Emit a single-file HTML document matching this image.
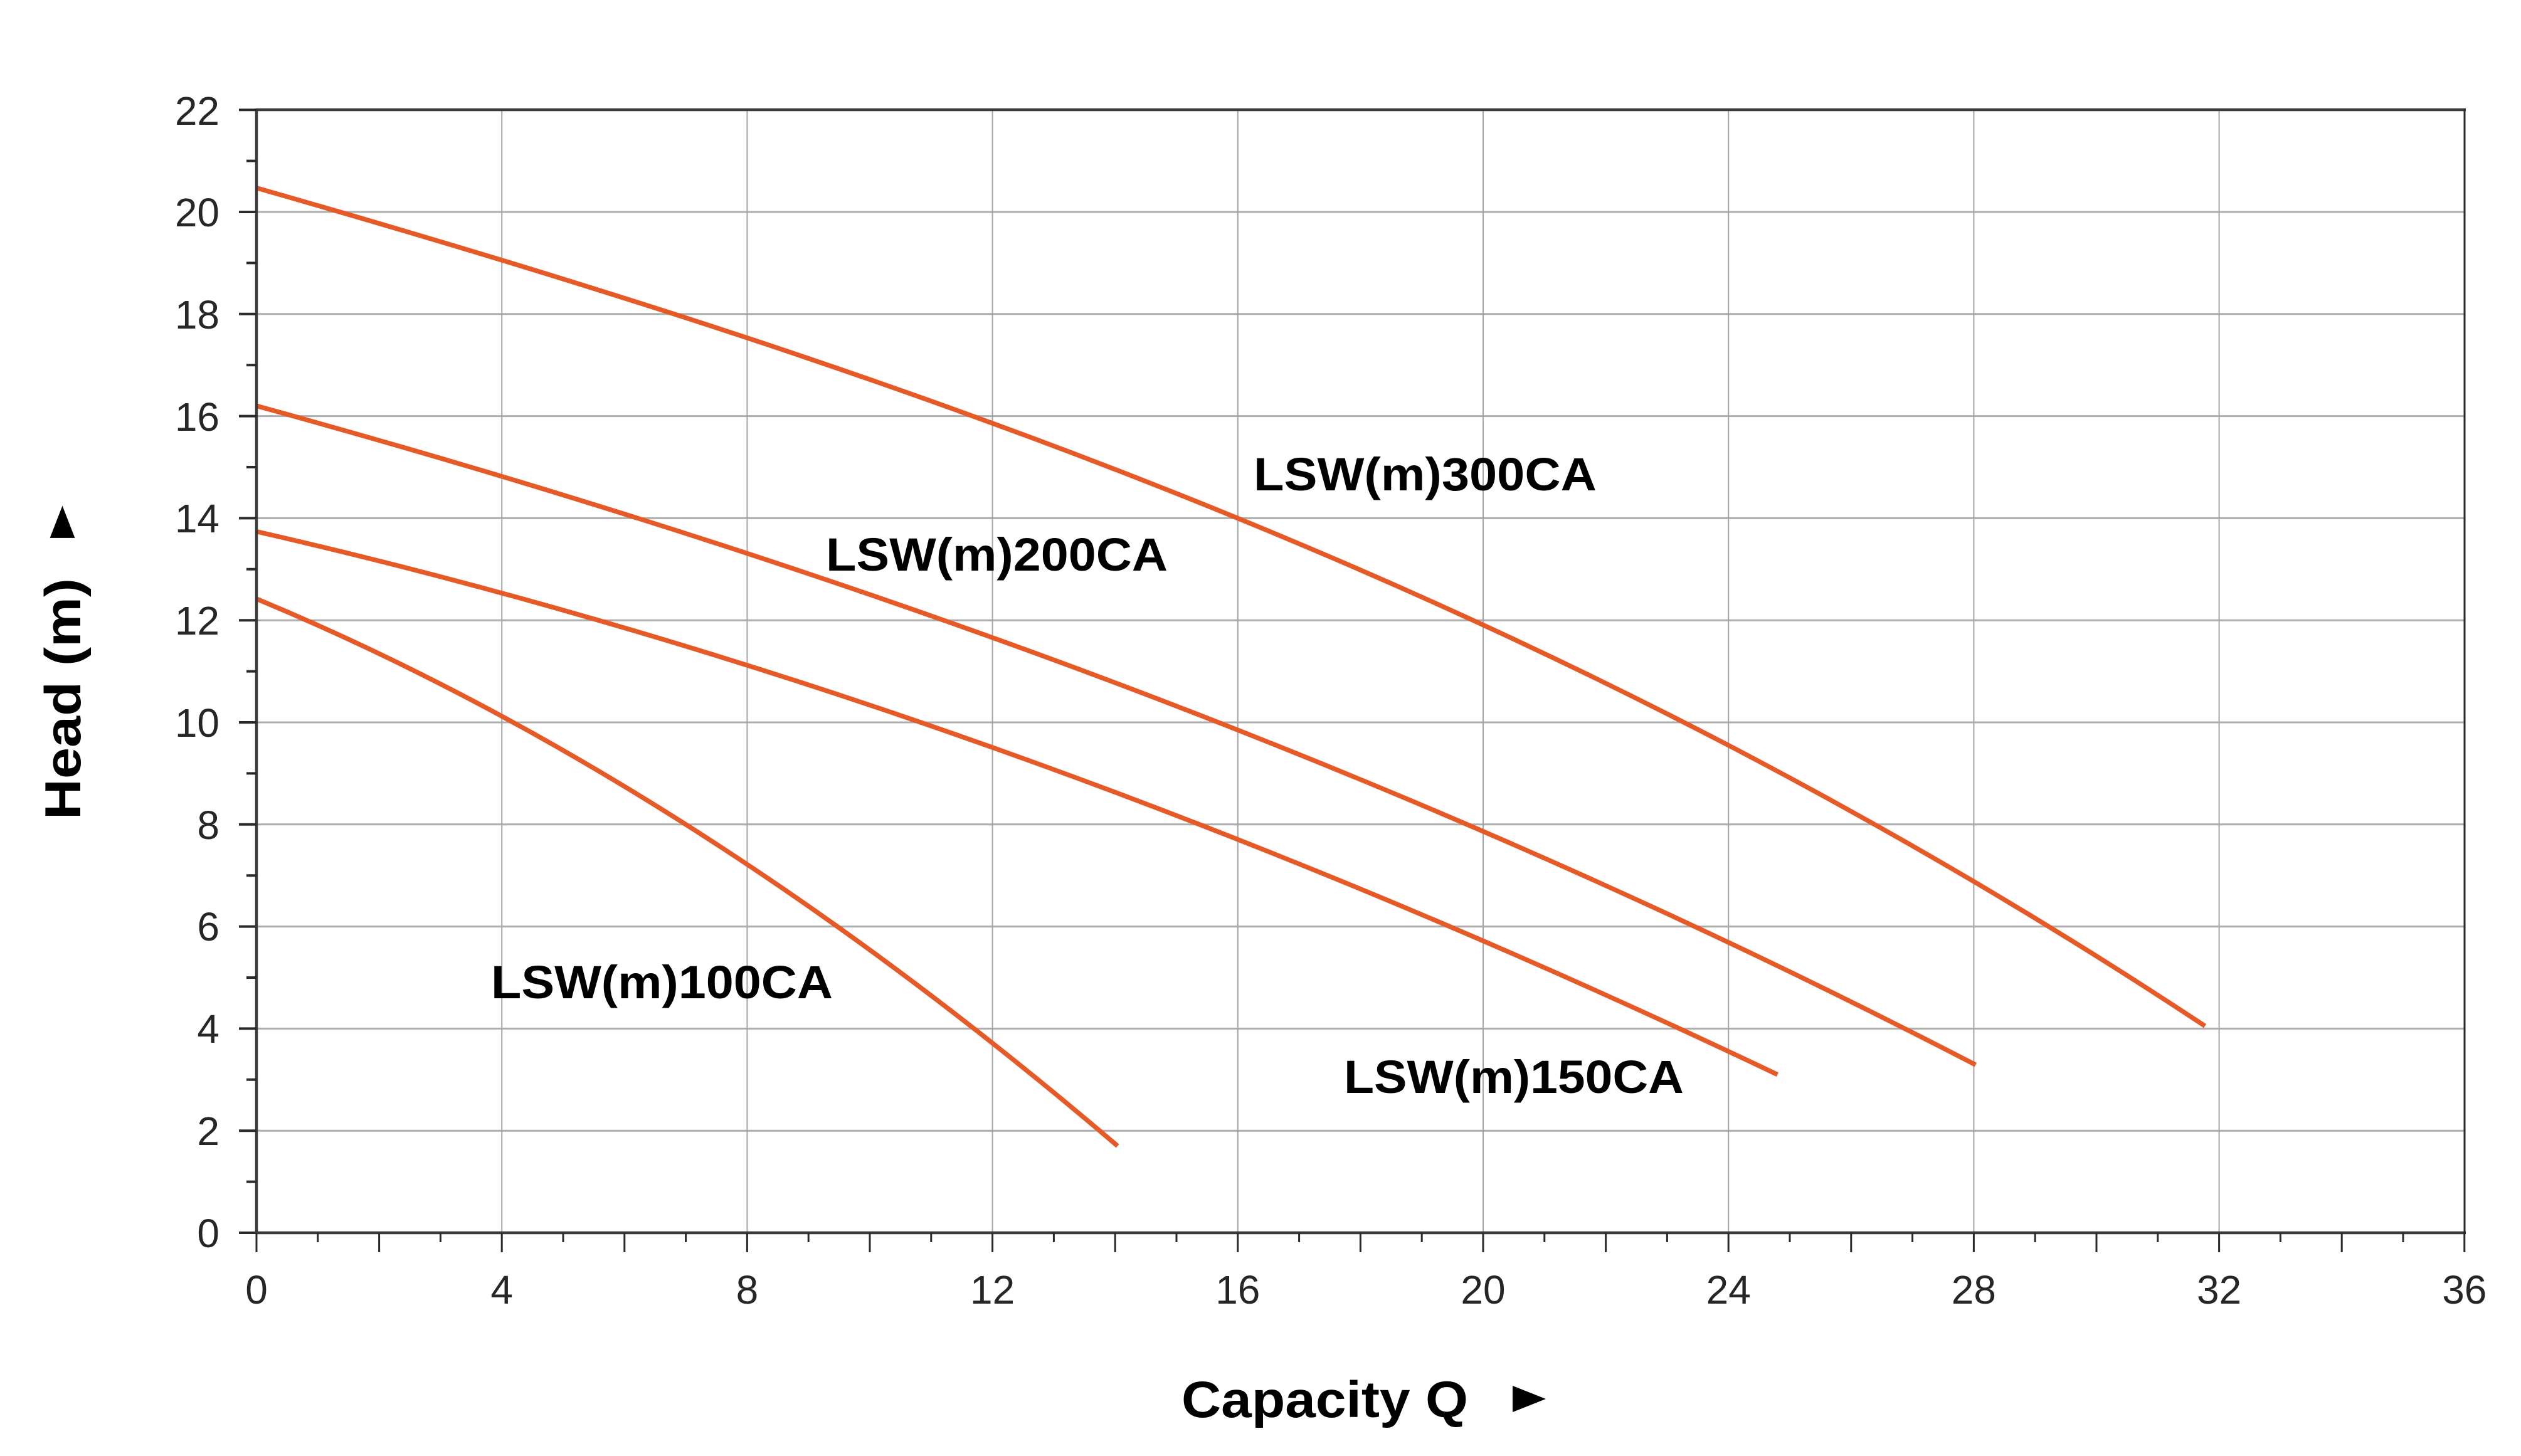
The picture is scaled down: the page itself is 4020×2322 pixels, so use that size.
<!DOCTYPE html>
<html>
<head>
<meta charset="utf-8">
<style>
html,body{margin:0;padding:0;background:#fff;}
svg{display:block;}
text{font-family:"Liberation Sans",Arial,sans-serif;}
</style>
</head>
<body>
<svg width="4020" height="2322" viewBox="0 0 4020 2322" xmlns="http://www.w3.org/2000/svg">
<rect x="0" y="0" width="4020" height="2322" fill="#ffffff"/>

<!-- horizontal gridlines -->
<path d="M409 1803.2H3930M409 1640.4H3930M409 1477.6H3930M409 1314.8H3930M409 1152H3930M409 989.2H3930M409 826.4H3930M409 663.6H3930M409 500.8H3930M409 338H3930" stroke="#adadad" stroke-width="3" fill="none"/>
<!-- vertical gridlines -->
<path d="M800.2 175V1966M1191.4 175V1966M1582.6 175V1966M1973.8 175V1966M2365 175V1966M2756.2 175V1966M3147.4 175V1966M3538.6 175V1966" stroke="#a4a4a4" stroke-width="2" fill="none"/>

<!-- curves -->
<g fill="none" stroke="#e65a28" stroke-width="7.5" stroke-linecap="butt">
<path d="M409 299.7C1444.7 595.6 2480.4 950.7 3516.1 1636.3"/>
<path d="M409 647.3C1322.8 898.7 2236.6 1224.5 3150.3 1698.2"/>
<path d="M409 847.6C1217.5 1033 2025.9 1328.9 2834.4 1713.7"/>
<path d="M409 955C866.7 1145.2 1324.4 1436.7 1782.1 1827.6"/>
</g>

<!-- frame -->
<path d="M409 175H3932" stroke="#3a3a3a" stroke-width="4.5" fill="none"/>
<path d="M409 173V1968" stroke="#3a3a3a" stroke-width="4.5" fill="none"/>
<path d="M407 1966H3932" stroke="#3a3a3a" stroke-width="4.5" fill="none"/>
<path d="M3930 173V1968" stroke="#2a2a2a" stroke-width="3" fill="none"/>

<!-- y ticks major -->
<path d="M381 1966H409M381 1803.2H409M381 1640.4H409M381 1477.6H409M381 1314.8H409M381 1152H409M381 989.2H409M381 826.4H409M381 663.6H409M381 500.8H409M381 338H409M381 175.2H409" stroke="#2a2a2a" stroke-width="4" fill="none"/>
<!-- y ticks minor -->
<path d="M393 1884.6H409M393 1721.8H409M393 1559H409M393 1396.2H409M393 1233.4H409M393 1070.6H409M393 907.8H409M393 745H409M393 582.2H409M393 419.4H409M393 256.6H409" stroke="#2a2a2a" stroke-width="4" fill="none"/>

<!-- x ticks major -->
<path d="M409 1966V1997M604.6 1966V1997M800.2 1966V1997M995.8 1966V1997M1191.4 1966V1997M1387 1966V1997M1582.6 1966V1997M1778.2 1966V1997M1973.8 1966V1997M2169.4 1966V1997M2365 1966V1997M2560.6 1966V1997M2756.2 1966V1997M2951.8 1966V1997M3147.4 1966V1997M3343 1966V1997M3538.6 1966V1997M3734.2 1966V1997M3929.8 1966V1997" stroke="#2a2a2a" stroke-width="3" fill="none"/>
<!-- x ticks minor -->
<path d="M506.8 1966V1981M702.4 1966V1981M898 1966V1981M1093.6 1966V1981M1289.2 1966V1981M1484.8 1966V1981M1680.4 1966V1981M1876 1966V1981M2071.6 1966V1981M2267.2 1966V1981M2462.8 1966V1981M2658.4 1966V1981M2854 1966V1981M3049.6 1966V1981M3245.2 1966V1981M3440.8 1966V1981M3636.4 1966V1981M3832 1966V1981" stroke="#2a2a2a" stroke-width="3" fill="none"/>

<!-- y tick labels -->
<g font-size="64" fill="#262626" text-anchor="end">
<text x="350" y="1989">0</text>
<text x="350" y="1826">2</text>
<text x="350" y="1663">4</text>
<text x="350" y="1500">6</text>
<text x="350" y="1338">8</text>
<text x="350" y="1175">10</text>
<text x="350" y="1012">12</text>
<text x="350" y="849">14</text>
<text x="350" y="687">16</text>
<text x="350" y="524">18</text>
<text x="350" y="361">20</text>
<text x="350" y="199">22</text>
</g>

<!-- x tick labels -->
<g font-size="64" fill="#262626" text-anchor="middle">
<text x="409" y="2079">0</text>
<text x="800.2" y="2079">4</text>
<text x="1191.4" y="2079">8</text>
<text x="1582.6" y="2079">12</text>
<text x="1973.8" y="2079">16</text>
<text x="2365" y="2079">20</text>
<text x="2756.2" y="2079">24</text>
<text x="3147.4" y="2079">28</text>
<text x="3538.6" y="2079">32</text>
<text x="3929.8" y="2079">36</text>
</g>

<!-- curve labels -->
<g font-size="74" font-weight="bold" fill="#000">
<text x="1999" y="782" textLength="547" lengthAdjust="spacingAndGlyphs">LSW(m)300CA</text>
<text x="1317" y="910" textLength="545" lengthAdjust="spacingAndGlyphs">LSW(m)200CA</text>
<text x="783" y="1592" textLength="545" lengthAdjust="spacingAndGlyphs">LSW(m)100CA</text>
<text x="2143" y="1743" textLength="542" lengthAdjust="spacingAndGlyphs">LSW(m)150CA</text>
</g>

<!-- axis titles -->
<text x="0" y="0" transform="translate(128 1114.5) rotate(-90)" font-size="81" font-weight="bold" fill="#000" text-anchor="middle" textLength="385" lengthAdjust="spacingAndGlyphs">Head (m)</text>
<polygon points="99.5,806.6 79.6,857.9 119.4,857.9" fill="#000"/>

<text x="1884" y="2260" font-size="82" font-weight="bold" fill="#000" textLength="457" lengthAdjust="spacingAndGlyphs">Capacity Q</text>
<polygon points="2412,2210 2412,2252 2465,2231" fill="#000"/>
</svg>
</body>
</html>
